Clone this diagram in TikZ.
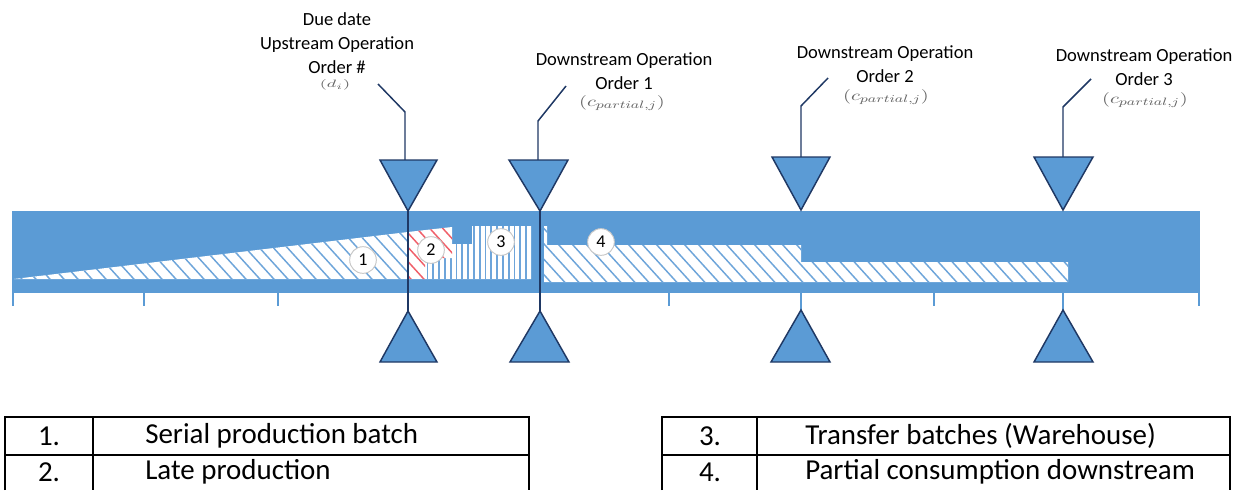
\documentclass[tikz,border=0pt]{standalone}
\usepackage{fontspec}
\setmainfont{Carlito}
\usepackage{graphicx}
\definecolor{barblue}{RGB}{91,155,213}
\definecolor{hatchblue}{RGB}{110,165,218}
\definecolor{hatchred}{RGB}{240,95,105}
\definecolor{navy}{RGB}{31,56,100}
\begin{document}
\begin{tikzpicture}[x=0.75pt,y=-0.75pt,
  tri/.style={fill=barblue,draw=navy,line width=1.1pt,line join=miter},
  guide/.style={draw=navy,line width=1.1pt},
  tickmark/.style={draw=barblue,line width=1.1pt},
  hatch/.style={draw=hatchblue,line width=1.1pt},
  redhatch/.style={draw=hatchred,line width=1.1pt},
  stripe/.style={draw=hatchblue,line width=1.4pt},
  num/.style={circle,fill=white,draw=black!22,line width=0.7pt,minimum size=20pt,inner sep=0pt,font=\fontsize{13.5}{14}\selectfont},
  lbl/.style={align=center,font=\fontsize{13.9}{17.8}\selectfont},
  formula/.style={text=black!60,inner sep=0pt},
  cell/.style={font=\fontsize{21.7}{24}\selectfont,inner sep=0pt},
  rule/.style={draw=black,line width=1.1pt}
]
\useasboundingbox (0,0) rectangle (1245,490);

% time bar
\fill[barblue] (12,211) rectangle (1200,293);

% 1: serial production batch (wedge)
\begin{scope}
  \clip (14,279) -- (408,232) -- (408,279) -- cycle;
  \fill[white] (0,200) rectangle (420,300);
  \foreach \k in {-120,-106,...,420} \draw[hatch] (\k,200) -- ++(100,110);
\end{scope}

% 3: transfer batches (stripes)
\begin{scope}
  \clip (425,279) -- (425,258) -- (452,258) -- (452,244) -- (472,244) -- (472,226) -- (531,226) -- (531,279) -- cycle;
  \fill[white] (420,220) rectangle (535,285);
  \foreach \k in {427.5,433.3,...,531} \draw[stripe] (\k,220) -- (\k,285);
\end{scope}

% 2: late production
\begin{scope}
  \clip (408,232) -- (452,227) -- (452,258) -- (425,258) -- (425,279) -- (408,279) -- cycle;
  \fill[white] (400,220) rectangle (460,285);
  \foreach \k in {300,313,...,460} \draw[redhatch] (\k,200) -- ++(100,110);
\end{scope}

% 4: partial consumption downstream
\begin{scope}
  \clip (544,226) -- (547,226) -- (547,245) -- (801,245) -- (801,262) -- (1068,262) -- (1068,282) -- (544,282) -- cycle;
  \fill[white] (540,220) rectangle (1075,290);
  \foreach \k in {420,434,...,1080} \draw[hatch] (\k,200) -- ++(100,110);
\end{scope}

% scale ticks
\foreach \t in {13,144,278,669,934,1199} \draw[tickmark] (\t,293) -- (\t,306);
\foreach \t in {801,1063} \draw[tickmark] (\t,293) -- (\t,310);

% triangle apexes
\coordinate (d1) at (408,211);
\coordinate (d2) at (540,211);
\coordinate (d3) at (801,210);
\coordinate (d4) at (1063,210);
\coordinate (u1) at (408,311);
\coordinate (u2) at (540,311);
\coordinate (u3) at (801,310);
\coordinate (u4) at (1063,310);

% order lines through the bar
\draw[guide] (d1) -- (u1);
\draw[guide] (d2) -- (u2);

% leader lines
\coordinate (lead1) at (378,84);  \coordinate (bend1) at (405,112);  \coordinate (top1) at (405,161);
\coordinate (lead2) at (566,86);  \coordinate (bend2) at (538,121);  \coordinate (top2) at (538,161);
\coordinate (lead3) at (828,78);  \coordinate (bend3) at (801,106);  \coordinate (top3) at (801,158);
\coordinate (lead4) at (1091,79); \coordinate (bend4) at (1063,107); \coordinate (top4) at (1063,158);
\draw[guide] (lead1) -- (bend1) -- (top1);
\draw[guide] (lead2) -- (bend2) -- (top2);
\draw[guide] (lead3) -- (bend3) -- (top3);
\draw[guide] (lead4) -- (bend4) -- (top4);

% triangles above and below the bar
\draw[tri] (380,160) -- (437,160) -- (d1) -- cycle;
\draw[tri] (509,160) -- (568,160) -- (d2) -- cycle;
\draw[tri] (772,157) -- (830,157) -- (d3) -- cycle;
\draw[tri] (1034,157) -- (1093,157) -- (d4) -- cycle;
\draw[tri] (380,362) -- (437,362) -- (u1) -- cycle;
\draw[tri] (510,362) -- (569,362) -- (u2) -- cycle;
\draw[tri] (771,362) -- (830,362) -- (u3) -- cycle;
\draw[tri] (1034,362) -- (1093,362) -- (u4) -- cycle;

% numbered markers
\node[num] (n1) at (363,260) {1};
\node[num] (n2) at (431,250) {2};
\node[num] (n3) at (501,242) {3};
\node[num] (n4) at (601,242) {4};

% labels
\node[lbl] (due) at (337,43) {Due date\\Upstream Operation\\Order \#};
\node[formula] (dform) at (335,85) {\fontsize{8}{8}\selectfont\scalebox{1.6}[1]{$(d_i)$}};
\node[lbl] (ds1) at (624,71) {Downstream Operation\\Order 1};
\node[formula] (cf1) at (622,103) {\fontsize{11}{11}\selectfont\scalebox{1.4}[1]{$(c_{partial,j})$}};
\node[lbl] (ds2) at (885,64.5) {Downstream Operation\\Order 2};
\node[formula] (cf2) at (886,97) {\fontsize{11}{11}\selectfont\scalebox{1.4}[1]{$(c_{partial,j})$}};
\node[lbl] (ds3) at (1144,67.5) {Downstream Operation\\Order 3};
\node[formula] (cf3) at (1145,100) {\fontsize{11}{11}\selectfont\scalebox{1.4}[1]{$(c_{partial,j})$}};

% legend, left
\draw[rule] (5,490) -- (5,417) -- (529,417) -- (529,490);
\draw[rule] (93,417) -- (93,490);
\draw[rule] (5,455) -- (529,455);
\node[cell] (k1) at (49,436) {1.};
\node[cell,anchor=west] (t1) at (145,436) {Serial production batch};
\node[cell] (k2) at (49,472) {2.};
\node[cell,anchor=west] (t2) at (145,472) {Late production};

% legend, right
\draw[rule] (662,490) -- (662,417) -- (1230,417) -- (1230,490);
\draw[rule] (757,417) -- (757,490);
\draw[rule] (662,455) -- (1230,455);
\node[cell] (k3) at (710,436) {3.};
\node[cell,anchor=west] (t3) at (805,436) {Transfer batches (Warehouse)};
\node[cell] (k4) at (710,472) {4.};
\node[cell,anchor=west] (t4) at (805,472) {Partial consumption downstream};
\end{tikzpicture}
\end{document}
